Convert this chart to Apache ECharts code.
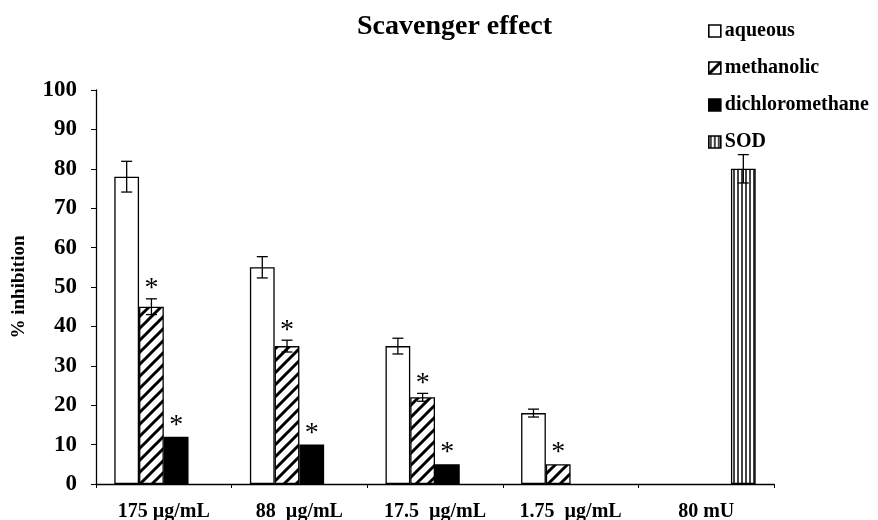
<!DOCTYPE html>
<html>
<head>
<meta charset="utf-8">
<script src="https://cdn.jsdelivr.net/npm/echarts@6/dist/echarts.min.js"></script>
<style>
  html, body { margin: 0; background: #fff; }
  #chart { width: 878px; height: 520px; }
</style>
</head>
<body>
<div id="chart"></div>
<script>
// data
const categories = ['175 µg/mL', '88  µg/mL', '17.5  µg/mL', '1.75  µg/mL', '80 mU']
const yTicks = [0, 10, 20, 30, 40, 50, 60, 70, 80, 90, 100]

const aqueous = [78, 55, 35, 18, null]
const aqueousErr = [3.9, 2.7, 2, 1, null]
const methanolic = [45, 35, 22, 5, null]
const methanolicErr = [2, 1.5, 1, 0.4, null]
const dichloromethane = [12, 10, 5, null, null]
const dichloromethaneErr = [0.3, 0.3, 0.3, null, null]
const sod = [null, null, null, null, 80]
const sodErr = [null, null, null, null, 3.6]

// asterisk = significant vs aqueous
const methanolicSig = [1, 1, 1, 1, 0]
const dichloromethaneSig = [1, 1, 1, 0, 0]

const FONT = '"Liberation Serif", "Times New Roman", serif'
const GAP = 0.27
const NSERIES = 4

function hatchPattern() {
  const c = document.createElement('canvas')
  c.width = 12
  c.height = 12
  const ctx = c.getContext('2d')
  ctx.fillStyle = '#fff'
  ctx.fillRect(0, 0, 12, 12)
  ctx.strokeStyle = '#000'
  ctx.lineWidth = 3
  ctx.beginPath()
  ctx.moveTo(-6, 6); ctx.lineTo(6, -6)
  ctx.moveTo(0, 12); ctx.lineTo(12, 0)
  ctx.moveTo(6, 18); ctx.lineTo(18, 6)
  ctx.stroke()
  return c
}

function stripePattern() {
  const c = document.createElement('canvas')
  c.width = 4
  c.height = 4
  const ctx = c.getContext('2d')
  ctx.fillStyle = '#fff'
  ctx.fillRect(0, 0, 4, 4)
  ctx.fillStyle = '#444'
  ctx.fillRect(1, 0, 2, 4)
  return c
}

function errData(vals, errs, sig) {
  const out = []
  vals.forEach((v, i) => {
    if (v == null) return
    out.push([i, v, errs[i] || 0, sig ? sig[i] : 0])
  })
  return out
}

function errSeries(idx, vals, errs, sig) {
  return {
    type: 'custom',
    z: 5,
    silent: true,
    data: errData(vals, errs, sig),
    renderItem: (params, api) => {
      const i = api.value(0)
      const v = api.value(1)
      const e = api.value(2)
      const s = api.value(3)
      const band = api.size([1, 0])[0]
      const barW = band * (1 - GAP) / NSERIES
      const x = api.coord([i, v])[0] + (idx - (NSERIES - 1) / 2) * barW
      const top = api.coord([i, v + e])[1]
      const bot = api.coord([i, v - e])[1]
      const style = { stroke: '#000', lineWidth: 1.3 }
      const children = []
      if (e > 0.5) {
        children.push(
          { type: 'line', shape: { x1: x, y1: top, x2: x, y2: bot }, style },
          { type: 'line', shape: { x1: x - 5.5, y1: top, x2: x + 5.5, y2: top }, style },
          { type: 'line', shape: { x1: x - 5.5, y1: bot, x2: x + 5.5, y2: bot }, style }
        )
      }
      if (s) {
        children.push({
          type: 'text',
          style: {
            text: '*', x: x, y: top - 10,
            align: 'center', verticalAlign: 'middle',
            font: '28px ' + FONT, fill: '#000'
          }
        })
      }
      return { type: 'group', children }
    }
  }
}

const chart = echarts.init(document.getElementById('chart'))

const barBase = {
  type: 'bar',
  barGap: 0,
  barCategoryGap: (GAP * 100) + '%',
  z: 2
}

chart.setOption({
  animation: false,
  backgroundColor: '#fff',
  title: {
    text: 'Scavenger effect',
    left: 352,
    top: 8,
    textStyle: { fontFamily: FONT, fontWeight: 'bold', fontSize: 28, color: '#000' }
  },
  legend: {
    orient: 'vertical',
    left: 703,
    top: 16,
    itemWidth: 12,
    itemHeight: 12,
    itemGap: 17,
    itemStyle: { borderWidth: 1.6 },
    icon: 'rect',
    textStyle: { fontFamily: FONT, fontWeight: 'bold', fontSize: 20, color: '#000', padding: [0, 0, 0, -1] },
    data: ['aqueous', 'methanolic', 'dichloromethane', 'SOD']
  },
  grid: { left: 96, right: 104, top: 90, bottom: 36, outerBoundsMode: 'none', containLabel: false },
  xAxis: {
    type: 'category',
    data: categories,
    axisLine: { lineStyle: { color: '#000', width: 1.3 } },
    axisTick: { show: true, length: 4, lineStyle: { color: '#000' } },
    axisLabel: { margin: 18, fontFamily: FONT, fontWeight: 'bold', fontSize: 20, color: '#000' },
    splitLine: { show: false }
  },
  yAxis: {
    type: 'value',
    min: yTicks[0],
    max: yTicks[yTicks.length - 1],
    interval: yTicks[1] - yTicks[0],
    name: '% inhibition',
    nameLocation: 'middle',
    nameRotate: 90,
    nameGap: 67,
    nameTextStyle: { fontFamily: FONT, fontWeight: 'bold', fontSize: 19, color: '#000' },
    axisLine: { show: true, lineStyle: { color: '#000', width: 1.3 } },
    axisTick: { show: true, length: 5, lineStyle: { color: '#000' } },
    axisLabel: { margin: 19, fontFamily: FONT, fontWeight: 'bold', fontSize: 23, color: '#000' },
    splitLine: { show: false }
  },
  series: [
    Object.assign({}, barBase, {
      name: 'aqueous', data: aqueous,
      itemStyle: { color: '#fff', borderColor: '#000', borderWidth: 1.3 }
    }),
    Object.assign({}, barBase, {
      name: 'methanolic', data: methanolic,
      itemStyle: { color: { image: hatchPattern(), repeat: 'repeat' }, borderColor: '#000', borderWidth: 1.3 }
    }),
    Object.assign({}, barBase, {
      name: 'dichloromethane', data: dichloromethane,
      itemStyle: { color: '#000', borderColor: '#000', borderWidth: 1.3 }
    }),
    Object.assign({}, barBase, {
      name: 'SOD', data: sod,
      itemStyle: { color: { image: stripePattern(), repeat: 'repeat' }, borderColor: '#000', borderWidth: 1.3 }
    }),
    errSeries(0, aqueous, aqueousErr, null),
    errSeries(1, methanolic, methanolicErr, methanolicSig),
    errSeries(2, dichloromethane, dichloromethaneErr, dichloromethaneSig),
    errSeries(3, sod, sodErr, null)
  ]
})
</script>
</body>
</html>
